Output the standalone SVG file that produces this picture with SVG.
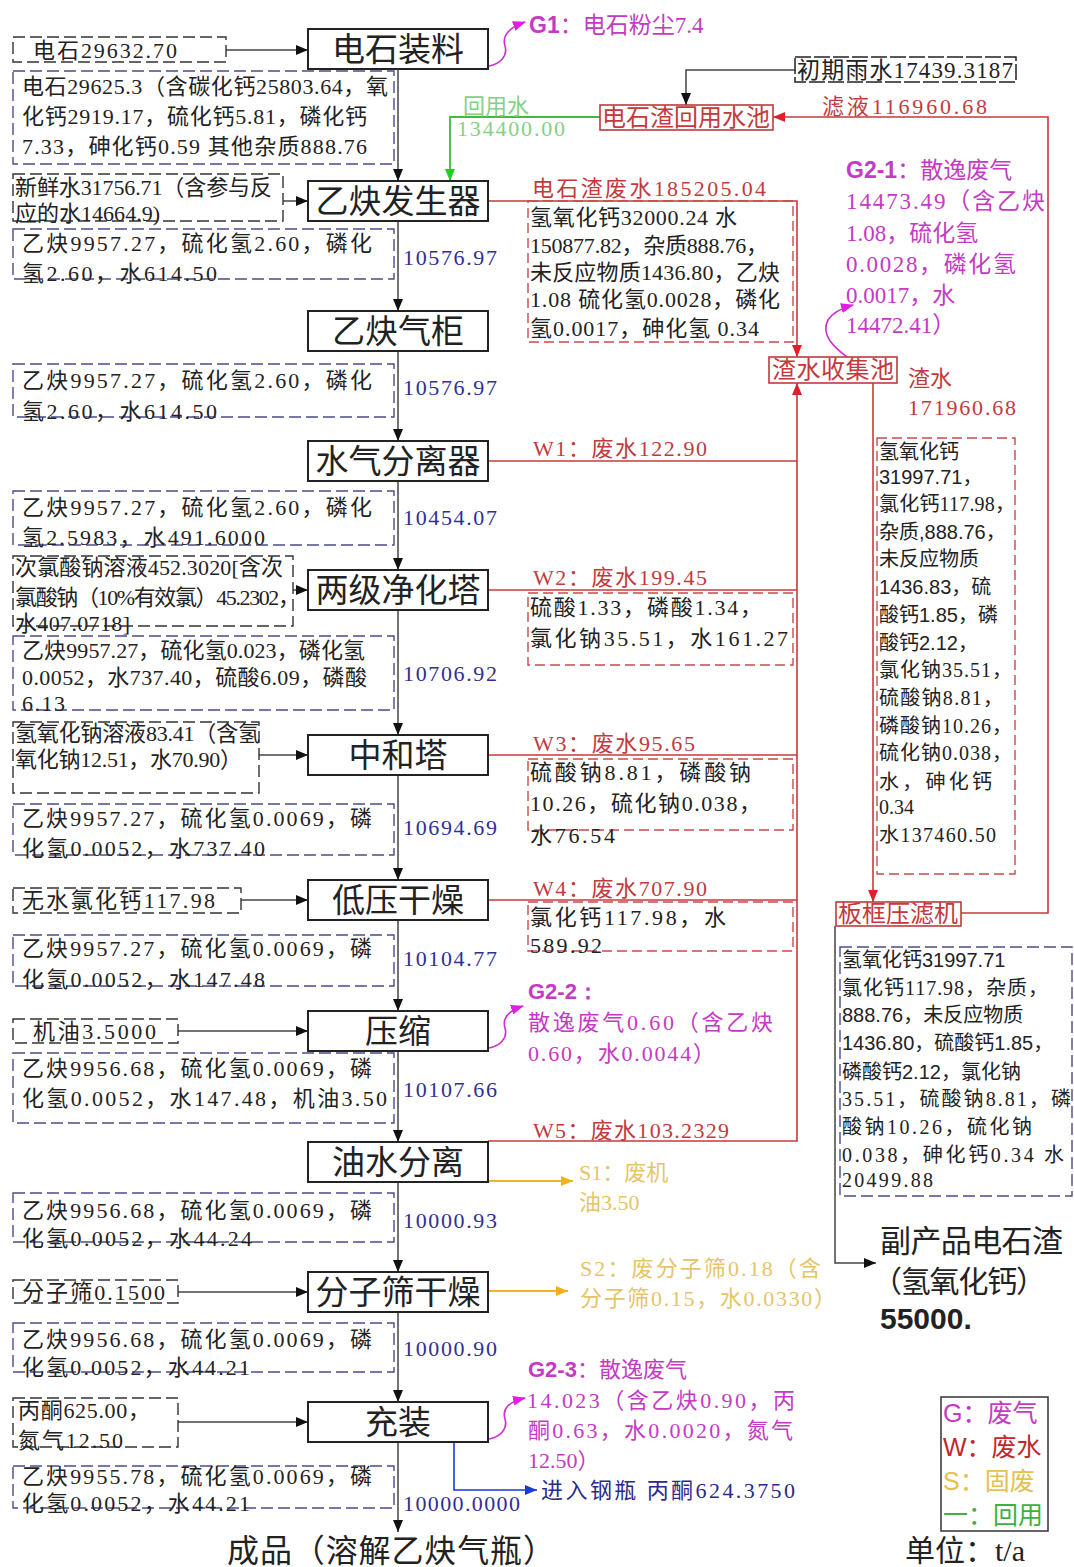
<svg xmlns="http://www.w3.org/2000/svg" width="1074" height="1567" viewBox="0 0 1074 1567">
<style>
text{font-family:"Liberation Serif","Noto Sans CJK SC",serif;dominant-baseline:central;fill:#222;font-size:22px}
.n rect{fill:#fff;stroke:#222;stroke-width:2}
.n text{font-size:33px;text-anchor:middle}
.dk{fill:none;stroke:#333;stroke-width:1.4;stroke-dasharray:12 5}
.db{fill:none;stroke:#4b4b8f;stroke-width:1.4;stroke-dasharray:12 5}
.dr{fill:none;stroke:#c84a4c;stroke-width:1.4;stroke-dasharray:10 5}
.rb{fill:#fff;stroke:#c0393c;stroke-width:1.6}
.fl{fill:#2f2f95}
.rd{fill:#c23a3d}
.mg{fill:#c43ac4}
.yl{fill:#e6c468}
.gr{fill:#86cf86}
.ar{font-family:"Liberation Sans",Arial,sans-serif}
.b{font-weight:bold}
.s20{font-size:20px}
.lb{stroke:#444;stroke-width:1.5;fill:none}
.lr{stroke:#c8393c;stroke-width:1.6;fill:none}
.lg{stroke:#3cbc3c;stroke-width:1.8;fill:none}
.lm{stroke:#d030d0;stroke-width:1.6;fill:none}
.ly{stroke:#f0b428;stroke-width:1.8;fill:none}
.lbl{stroke:#1a3ad6;stroke-width:1.6;fill:none}
</style>
<defs>
<marker id="ab" markerWidth="12" markerHeight="10" refX="12" refY="5" orient="auto" markerUnits="userSpaceOnUse"><path d="M0,0 L12,5 L0,10 z" fill="#111"/></marker>
<marker id="arr" markerWidth="12" markerHeight="10" refX="12" refY="5" orient="auto" markerUnits="userSpaceOnUse"><path d="M0,0 L12,5 L0,10 z" fill="#e0202a"/></marker>
<marker id="ag" markerWidth="12" markerHeight="10" refX="12" refY="5" orient="auto" markerUnits="userSpaceOnUse"><path d="M0,0 L12,5 L0,10 z" fill="#22cc22"/></marker>
<marker id="am" markerWidth="14" markerHeight="10" refX="12" refY="5" orient="auto" markerUnits="userSpaceOnUse"><path d="M0,0 L13,5 L0,10 z" fill="#e020e0"/></marker>
<marker id="ay" markerWidth="12" markerHeight="10" refX="12" refY="5" orient="auto" markerUnits="userSpaceOnUse"><path d="M0,0 L12,5 L0,10 z" fill="#f0b020"/></marker>
<marker id="abl" markerWidth="12" markerHeight="10" refX="12" refY="5" orient="auto" markerUnits="userSpaceOnUse"><path d="M0,0 L12,5 L0,10 z" fill="#1a3ad6"/></marker>
</defs>
<rect width="1074" height="1567" fill="#fff"/>

<g id="connectors">
<path class="lb" marker-end="url(#ab)" d="M398,69 V181"/>
<path class="lb" marker-end="url(#ab)" d="M398,221 V311"/>
<path class="lb" marker-end="url(#ab)" d="M398,351 V441"/>
<path class="lb" marker-end="url(#ab)" d="M398,480 V570"/>
<path class="lb" marker-end="url(#ab)" d="M398,610 V735"/>
<path class="lb" marker-end="url(#ab)" d="M398,775 V880"/>
<path class="lb" marker-end="url(#ab)" d="M398,920 V1011"/>
<path class="lb" marker-end="url(#ab)" d="M398,1051 V1142"/>
<path class="lb" marker-end="url(#ab)" d="M398,1182 V1272"/>
<path class="lb" marker-end="url(#ab)" d="M398,1312 V1402"/>
<path class="lb" marker-end="url(#ab)" d="M398,1442 V1532"/>
<path class="lb" marker-end="url(#ab)" d="M226,50 H308"/>
<path class="lb" marker-end="url(#ab)" d="M283,201 H308"/>
<path class="lb" marker-end="url(#ab)" d="M293,590 H308"/>
<path class="lb" marker-end="url(#ab)" d="M259,755 H308"/>
<path class="lb" marker-end="url(#ab)" d="M241,900 H308"/>
<path class="lb" marker-end="url(#ab)" d="M178,1031 H308"/>
<path class="lb" marker-end="url(#ab)" d="M178,1292 H308"/>
<path class="lb" marker-end="url(#ab)" d="M178,1422 H308"/>
<path class="lb" marker-end="url(#ab)" d="M795,70 H686 V105"/>
<path class="lb" marker-end="url(#ab)" d="M835,926 V1263 H876"/>
<path class="lg" marker-end="url(#ag)" d="M600,117 H450 V181"/>
<path class="lr" marker-end="url(#arr)" d="M488,201 H797 V357"/>
<path class="lr" d="M488,461 H797"/>
<path class="lr" d="M488,590 H797"/>
<path class="lr" d="M488,755 H797"/>
<path class="lr" d="M488,900 H797"/>
<path class="lr" marker-end="url(#arr)" d="M488,1141 H797 V383"/>
<path class="lr" marker-end="url(#arr)" d="M873,383 V902"/>
<path class="lr" marker-end="url(#arr)" d="M961,913 H1048 V117 H773"/>
<path class="lm" marker-end="url(#am)" d="M489,66 C500,64 508,56 505,46 C502,36 508,28 525,22"/>
<path class="lm" marker-end="url(#am)" d="M847,357 C835,348 820,335 828,320 C833,312 842,308 853,305"/>
<path class="lm" marker-end="url(#am)" d="M489,1048 C500,1046 508,1038 505,1028 C502,1018 508,1011 523,1006"/>
<path class="lm" marker-end="url(#am)" d="M489,1439 C500,1437 508,1429 505,1419 C502,1409 508,1402 525,1398"/>
<path class="ly" marker-end="url(#ay)" d="M488,1181 H573"/>
<path class="ly" marker-end="url(#ay)" d="M488,1291 H568"/>
<path class="lbl" marker-end="url(#abl)" d="M454,1442 V1490 H537"/>
</g>

<g id="n-zhuangliao" class="n"><rect x="308" y="29" width="180" height="40"/><text x="398" y="50">电石装料</text></g>
<g id="n-fashengqi" class="n"><rect x="308" y="181" width="180" height="40"/><text x="398" y="202">乙炔发生器</text></g>
<g id="n-qigui" class="n"><rect x="308" y="311" width="180" height="40"/><text x="398" y="332">乙炔气柜</text></g>
<g id="n-shuiqi" class="n"><rect x="308" y="441" width="180" height="40"/><text x="398" y="462">水气分离器</text></g>
<g id="n-jinghua" class="n"><rect x="308" y="570" width="180" height="40"/><text x="398" y="591">两级净化塔</text></g>
<g id="n-zhonghe" class="n"><rect x="308" y="735" width="180" height="40"/><text x="398" y="756">中和塔</text></g>
<g id="n-ganzao" class="n"><rect x="308" y="880" width="180" height="40"/><text x="398" y="901">低压干燥</text></g>
<g id="n-yasuo" class="n"><rect x="308" y="1011" width="180" height="40"/><text x="398" y="1032">压缩</text></g>
<g id="n-youshui" class="n"><rect x="308" y="1142" width="180" height="40"/><text x="398" y="1163">油水分离</text></g>
<g id="n-fenzishai" class="n"><rect x="308" y="1272" width="180" height="40"/><text x="398" y="1293">分子筛干燥</text></g>
<g id="n-chongzhuang" class="n"><rect x="308" y="1402" width="180" height="40"/><text x="398" y="1423">充装</text></g>

<g id="in-dianshi"><rect class="dk" x="13" y="37" width="213" height="25"/><text x="33" y="50" textLength="144">电石29632.70</text></g>
<g id="in-xianshui"><rect class="dk" x="13" y="174" width="270" height="47"/><text x="15" y="187" textLength="257">新鲜水31756.71（含参与反</text><text x="15" y="213" textLength="145">应的水14664.9)</text></g>
<g id="in-ciluo"><rect class="dk" x="13" y="556" width="280" height="70"/><text x="15" y="567" textLength="268">次氯酸钠溶液452.3020[含次</text><text x="15" y="597" textLength="285">氯酸钠（10%有效氯）45.2302，</text><text x="15" y="623" textLength="115">水407.0718]</text></g>
<g id="in-naoh"><rect class="dk" x="13" y="722" width="246" height="71"/><text x="15" y="733" textLength="245">氢氧化钠溶液83.41（含氢</text><text x="15" y="759" textLength="227">氧化钠12.51，水70.90）</text></g>
<g id="in-cacl"><rect class="dk" x="13" y="888" width="228" height="25"/><text x="22" y="900" textLength="193">无水氯化钙117.98</text></g>
<g id="in-jiyou"><rect class="dk" x="13" y="1019" width="165" height="24"/><text x="33" y="1031" textLength="123">机油3.5000</text></g>
<g id="in-fzs"><rect class="dk" x="13" y="1280" width="165" height="23"/><text x="22" y="1292" textLength="143">分子筛0.1500</text></g>
<g id="in-bingtong"><rect class="dk" x="13" y="1398" width="165" height="49"/><text x="18" y="1410" textLength="132">丙酮625.00，</text><text x="18" y="1440" textLength="105">氮气12.50</text></g>

<g id="out-1"><rect class="db" x="13" y="71" width="381" height="93"/>
<text x="22" y="86" textLength="366">电石29625.3（含碳化钙25803.64，氧</text>
<text x="22" y="116" textLength="345">化钙2919.17，硫化钙5.81，磷化钙</text>
<text x="22" y="146" textLength="345">7.33，砷化钙0.59 其他杂质888.76</text></g>
<g id="out-2"><rect class="db" x="13" y="229" width="381" height="50"/>
<text x="22" y="243" textLength="350">乙炔9957.27，硫化氢2.60，磷化</text>
<text x="22" y="273" textLength="195">氢2.60，水614.50</text>
<text class="fl" x="403" y="257" textLength="94">10576.97</text></g>
<g id="out-3"><rect class="db" x="13" y="364" width="381" height="53"/>
<text x="22" y="380" textLength="350">乙炔9957.27，硫化氢2.60，磷化</text>
<text x="22" y="411" textLength="195">氢2.60，水614.50</text>
<text class="fl" x="403" y="387" textLength="94">10576.97</text></g>
<g id="out-4"><rect class="db" x="13" y="491" width="381" height="54"/>
<text x="22" y="507" textLength="350">乙炔9957.27，硫化氢2.60，磷化</text>
<text x="22" y="537" textLength="243">氢2.5983，水491.6000</text>
<text class="fl" x="403" y="517" textLength="94">10454.07</text></g>
<g id="out-5"><rect class="db" x="13" y="636" width="381" height="74"/>
<text x="22" y="650" textLength="343">乙炔9957.27，硫化氢0.023，磷化氢</text>
<text x="22" y="677" textLength="345">0.0052，水737.40，硫酸6.09，磷酸</text>
<text x="22" y="703" textLength="43">6.13</text>
<text class="fl" x="403" y="673" textLength="94">10706.92</text></g>
<g id="out-6"><rect class="db" x="13" y="804" width="381" height="51"/>
<text x="22" y="818" textLength="350">乙炔9957.27，硫化氢0.0069，磷</text>
<text x="22" y="848" textLength="243">化氢0.0052，水737.40</text>
<text class="fl" x="403" y="827" textLength="94">10694.69</text></g>
<g id="out-7"><rect class="db" x="13" y="935" width="381" height="51"/>
<text x="22" y="948" textLength="350">乙炔9957.27，硫化氢0.0069，磷</text>
<text x="22" y="979" textLength="243">化氢0.0052，水147.48</text>
<text class="fl" x="403" y="958" textLength="94">10104.77</text></g>
<g id="out-8"><rect class="db" x="13" y="1053" width="381" height="70"/>
<text x="22" y="1068" textLength="350">乙炔9956.68，硫化氢0.0069，磷</text>
<text x="22" y="1098" textLength="365">化氢0.0052，水147.48，机油3.50</text>
<text class="fl" x="403" y="1089" textLength="94">10107.66</text></g>
<g id="out-9"><rect class="db" x="13" y="1193" width="381" height="49"/>
<text x="22" y="1210" textLength="350">乙炔9956.68，硫化氢0.0069，磷</text>
<text x="22" y="1238" textLength="230">化氢0.0052，水44.24</text>
<text class="fl" x="403" y="1220" textLength="94">10000.93</text></g>
<g id="out-10"><rect class="db" x="13" y="1323" width="381" height="49"/>
<text x="22" y="1339" textLength="350">乙炔9956.68，硫化氢0.0069，磷</text>
<text x="22" y="1367" textLength="228">化氢0.0052，水44.21</text>
<text class="fl" x="403" y="1348" textLength="94">10000.90</text></g>
<g id="out-11"><rect class="db" x="13" y="1466" width="381" height="42"/>
<text x="22" y="1476" textLength="350">乙炔9955.78，硫化氢0.0069，磷</text>
<text x="22" y="1503" textLength="228">化氢0.0052，水44.21</text>
<text class="fl" x="403" y="1503" textLength="117">10000.0000</text></g>

<g id="g1"><text class="mg" x="529" y="25" style="font-size:23px"><tspan class="ar b">G1</tspan>：电石粉尘7.4</text></g>
<g id="huiyongshui"><text class="gr" x="463" y="106">回用水</text><text class="gr" x="457" y="128" textLength="108">134400.00</text></g>
<g id="n-huiyongchi"><rect class="rb" x="600" y="105" width="173" height="25"/><text class="rd" x="602" y="118" style="font-size:24px" textLength="168">电石渣回用水池</text></g>
<g id="in-yushui"><rect fill="none" stroke="#222" stroke-width="1.5" stroke-dasharray="16 3" x="795" y="57" width="221" height="25"/><text x="797" y="70" style="font-size:23px" textLength="216">初期雨水17439.3187</text></g>
<g id="lvye"><text class="rd" x="822" y="106" textLength="165">滤液116960.68</text></g>

<g id="w-dianshizha"><text class="rd" x="532" y="188" textLength="234">电石渣废水185205.04</text>
<rect class="dr" x="528" y="201" width="265" height="141"/>
<text x="530" y="217" textLength="207">氢氧化钙32000.24 水</text>
<text x="530" y="245" textLength="238">150877.82，杂质888.76，</text>
<text x="530" y="272" textLength="250">未反应物质1436.80，乙炔</text>
<text x="530" y="299" textLength="250">1.08 硫化氢0.0028，磷化</text>
<text x="530" y="328" textLength="229">氢0.0017，砷化氢 0.34</text></g>

<g id="g2-1"><text class="mg" x="846" y="170" style="font-size:23px"><tspan class="ar b">G2-1</tspan>：散逸废气</text>
<text class="mg" x="846" y="201" style="font-size:23px" textLength="199">14473.49（含乙炔</text>
<text class="mg" x="846" y="233" style="font-size:23px">1.08，硫化氢</text>
<text class="mg" x="846" y="264" style="font-size:23px" textLength="170">0.0028，磷化氢</text>
<text class="mg" x="846" y="295" style="font-size:23px">0.0017，水</text>
<text class="mg" x="846" y="325" style="font-size:23px">14472.41）</text></g>

<g id="n-zhashuichi"><rect class="rb" x="769" y="357" width="128" height="26"/><text class="rd" x="772" y="370" style="font-size:24px" textLength="122">渣水收集池</text></g>
<g id="zhashui"><text class="rd" x="908" y="378">渣水</text><text class="rd" x="908" y="407" textLength="108">171960.68</text></g>

<g id="zhashui-detail"><rect class="dr" x="877" y="438" width="138" height="436"/>
<text class="s20" x="879" y="452">氢氧化钙</text>
<text class="s20" x="879" y="477"><tspan class="ar">31997.71</tspan>，</text>
<text class="s20" x="879" y="504" textLength="136">氯化钙117.98，</text>
<text class="s20" x="879" y="532">杂质<tspan class="ar">,888.76</tspan>，</text>
<text class="s20" x="879" y="559">未反应物质</text>
<text class="s20" x="879" y="587"><tspan class="ar">1436.83</tspan>，硫</text>
<text class="s20" x="879" y="615">酸钙<tspan class="ar">1.85</tspan>，磷</text>
<text class="s20" x="879" y="643">酸钙<tspan class="ar">2.12</tspan>，</text>
<text class="s20" x="879" y="670" textLength="133">氯化钠35.51，</text>
<text class="s20" x="879" y="698" textLength="124">硫酸钠8.81，</text>
<text class="s20" x="879" y="726" textLength="133">磷酸钠10.26，</text>
<text class="s20" x="879" y="753" textLength="133">硫化钠0.038，</text>
<text class="s20" x="879" y="782" textLength="113">水，砷化钙</text>
<text class="s20" x="879" y="807">0.34</text>
<text class="s20" x="879" y="835" textLength="117">水137460.50</text></g>

<g id="w1"><text class="rd" x="533" y="448" textLength="174">W1：废水122.90</text></g>
<g id="w2"><text class="rd" x="533" y="577" textLength="174">W2：废水199.45</text>
<rect class="dr" x="528" y="593" width="265" height="72"/>
<text x="530" y="607" textLength="232">硫酸1.33，磷酸1.34，</text>
<text x="530" y="638" textLength="258">氯化钠35.51，水161.27</text></g>
<g id="w3"><text class="rd" x="533" y="743" textLength="162">W3：废水95.65</text>
<rect class="dr" x="528" y="759" width="265" height="71"/>
<text x="530" y="772" textLength="221">硫酸钠8.81，磷酸钠</text>
<text x="530" y="803" textLength="231">10.26，硫化钠0.038，</text>
<text x="530" y="835" textLength="85">水76.54</text></g>
<g id="w4"><text class="rd" x="533" y="888" textLength="174">W4：废水707.90</text>
<rect class="dr" x="528" y="902" width="265" height="49"/>
<text x="530" y="917" textLength="196">氯化钙117.98，水</text>
<text x="530" y="945" textLength="72">589.92</text></g>
<g id="w5"><text class="rd" x="533" y="1130" textLength="196">W5：废水103.2329</text></g>

<g id="n-lvji"><rect class="rb" x="836" y="902" width="125" height="24"/><text class="rd" x="838" y="914" style="font-size:24px" textLength="120">板框压滤机</text></g>
<g id="lvbing-detail"><rect class="db" x="840" y="947" width="232" height="249"/>
<text class="s20" x="842" y="960">氢氧化钙<tspan class="ar">31997.71</tspan></text>
<text class="s20" x="842" y="988" textLength="206">氯化钙117.98，杂质，</text>
<text class="s20" x="842" y="1015"><tspan class="ar">888.76</tspan>，未反应物质</text>
<text class="s20" x="842" y="1043"><tspan class="ar">1436.80</tspan>，硫酸钙<tspan class="ar">1.85</tspan>，</text>
<text class="s20" x="842" y="1072">磷酸钙<tspan class="ar">2.12</tspan>，氯化钠</text>
<text class="s20" x="842" y="1099" textLength="229">35.51，硫酸钠8.81，磷</text>
<text class="s20" x="842" y="1127" textLength="190">酸钠10.26，硫化钠</text>
<text class="s20" x="842" y="1155" textLength="222">0.038，砷化钙0.34 水</text>
<text class="s20" x="842" y="1180" textLength="91">20499.88</text></g>

<g id="fuchanpin"><text x="880" y="1241" style="font-size:31px" textLength="183">副产品电石渣</text>
<text x="872" y="1281" style="font-size:30px" textLength="174">（氢氧化钙）</text>
<text class="ar b" x="880" y="1318" style="font-size:30px">55000.</text></g>

<g id="g2-2"><text class="mg ar b" x="528" y="991" style="font-size:22px">G2-2：</text>
<text class="mg" x="528" y="1022" textLength="245">散逸废气0.60（含乙炔</text>
<text class="mg" x="528" y="1053" textLength="187">0.60，水0.0044）</text></g>
<g id="s1"><text class="yl" x="579" y="1172">S1：废机</text><text class="yl" x="579" y="1202">油3.50</text></g>
<g id="s2"><text class="yl" x="580" y="1268" textLength="241">S2：废分子筛0.18（含</text><text class="yl" x="580" y="1298" textLength="256">分子筛0.15，水0.0330）</text></g>
<g id="g2-3"><text class="mg" x="528" y="1369"><tspan class="ar b">G2-3</tspan>：散逸废气</text>
<text class="mg" x="527" y="1400" textLength="268">14.023（含乙炔0.90，丙</text>
<text class="mg" x="528" y="1430" textLength="265">酮0.63，水0.0020，氮气</text>
<text class="mg" x="528" y="1460">12.50）</text></g>
<g id="gangping"><text x="541" y="1490" style="fill:#2a2a8c" textLength="254">进入钢瓶 丙酮624.3750</text></g>

<g id="chengpin"><text x="227" y="1551" style="font-size:32px" textLength="328">成品（溶解乙炔气瓶）</text></g>
<g id="legend"><rect x="941" y="1397" width="107" height="134" fill="none" stroke="#333" stroke-width="1.5"/>
<text x="943" y="1413" style="font-size:25px;fill:#c43ac4"><tspan class="ar">G</tspan>：废气</text>
<text x="943" y="1447" style="font-size:25px;fill:#c0282c"><tspan class="ar">W</tspan>：废水</text>
<text x="943" y="1481" style="font-size:25px;fill:#e6c050"><tspan class="ar">S</tspan>：固废</text>
<text x="943" y="1515" style="font-size:25px;fill:#40b040">一：回用</text></g>
<g id="danwei"><text x="905" y="1550" style="font-size:30px">单位：t/a</text></g>
</svg>
